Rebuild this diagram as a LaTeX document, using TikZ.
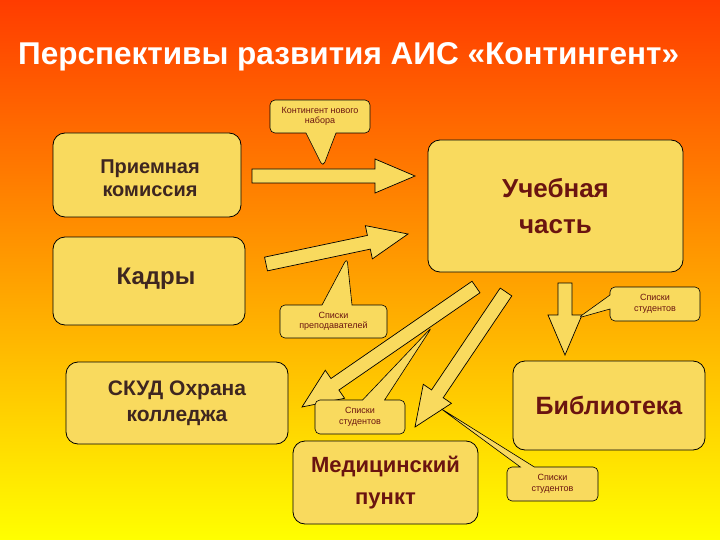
\documentclass[tikz,border=0pt]{standalone}
\usepackage{fontspec}
\setmainfont{Liberation Sans}
\usetikzlibrary{shapes.callouts}
\definecolor{boxf}{HTML}{F9DA5E}
\definecolor{txt}{HTML}{6A1410}
\definecolor{txtd}{HTML}{3E2620}
\tikzset{
  box/.style={draw=black, fill=boxf, rounded corners=12pt, line width=0.8pt, font=\bfseries, align=center, inner sep=0pt},
  call/.style={rectangle callout, draw=black, fill=boxf, rounded corners=5pt, line width=0.6pt, font=\fontsize{9}{10.5}\selectfont, text=txt, align=center, inner sep=0pt},
  arrowbox/.style={draw=black, fill=boxf, line width=0.7pt, line join=miter}
}
\newcommand\barrow[4]{%
  \pgfmathsetmacro\ang{atan2(#2-#4,#3-#1)}%
  \pgfmathsetmacro\len{veclen(#3-#1,#4-#2)}%
  \draw[arrowbox, shift={(#1,#2)}, rotate=\ang] (0pt,-7pt) -- (\len pt-40pt,-7pt) -- (\len pt-40pt,-17pt) -- (\len pt,0pt) -- (\len pt-40pt,17pt) -- (\len pt-40pt,7pt) -- (0pt,7pt) -- cycle;}
\begin{document}
\begin{tikzpicture}[x=1pt,y=-1pt]
\shade[top color={rgb,255:red,255;green,60;blue,0}, middle color={rgb,255:red,255;green,185;blue,0}, bottom color={rgb,255:red,255;green,255;blue,0}] (0,0) rectangle (720,540);
\useasboundingbox (0,0) rectangle (720,540);
\node[anchor=west, text=white, font=\bfseries\fontsize{31.5}{34}\selectfont, inner sep=0pt] (title) at (18,57) {Перспективы развития АИС «Контингент»};

\node[box, minimum width=188pt, minimum height=84pt] (pk) at (147,175) {};
\node[text=txtd, font=\bfseries\fontsize{20}{23}\selectfont, align=center] (pkt) at (150,178) {Приемная\\комиссия};
\node[box, minimum width=255pt, minimum height=132pt, text=txt, font=\bfseries\fontsize{26}{36}\selectfont] (uch) at (555.5,206) {Учебная\\часть};
\node[box, minimum width=192pt, minimum height=88pt] (kad) at (149,281) {};
\node[text=txtd, font=\bfseries\fontsize{24}{28}\selectfont] (kadt) at (156,279) {Кадры};
\node[box, minimum width=222pt, minimum height=82pt, text=txtd, font=\bfseries\fontsize{21}{26}\selectfont] (skud) at (177,403) {СКУД Охрана\\колледжа};
\node[box, minimum width=185pt, minimum height=83pt, text=txt, font=\bfseries\fontsize{22}{32}\selectfont] (med) at (385.5,482.5) {Медицинский\\пункт};
\node[box, minimum width=192pt, minimum height=89pt, text=txt, font=\bfseries\fontsize{25}{30}\selectfont] (lib) at (609,405.5) {Библиотека};

\barrow{252}{176}{415}{176}
\barrow{266}{264}{408}{234}
\barrow{476}{287}{302}{407}
\barrow{506}{292}{415}{427}
\barrow{565}{283}{565}{355}

\node[call, minimum width=100pt, minimum height=33pt, callout pointer width=30pt, callout absolute pointer={(323,167)}] (c1) at (320,116.5) {Контингент нового\\набора};
\node[call, minimum width=107pt, minimum height=33pt, callout pointer width=30pt, callout absolute pointer={(347,258)}] (c2) at (333.5,321.5) {Списки\\преподавателей};
\node[call, minimum width=90pt, minimum height=34pt, callout pointer width=14pt, callout absolute pointer={(578,318)}] (c3) at (655,304) {Списки\\студентов};
\node[call, minimum width=90pt, minimum height=34pt, callout pointer width=22pt, callout absolute pointer={(432,327)}] (c4) at (360,417) {Списки\\студентов};
\node[call, minimum width=91pt, minimum height=34pt, callout pointer width=14pt, callout absolute pointer={(440,408)}] (c5) at (552.5,484) {Списки\\студентов};
\end{tikzpicture}
\end{document}
